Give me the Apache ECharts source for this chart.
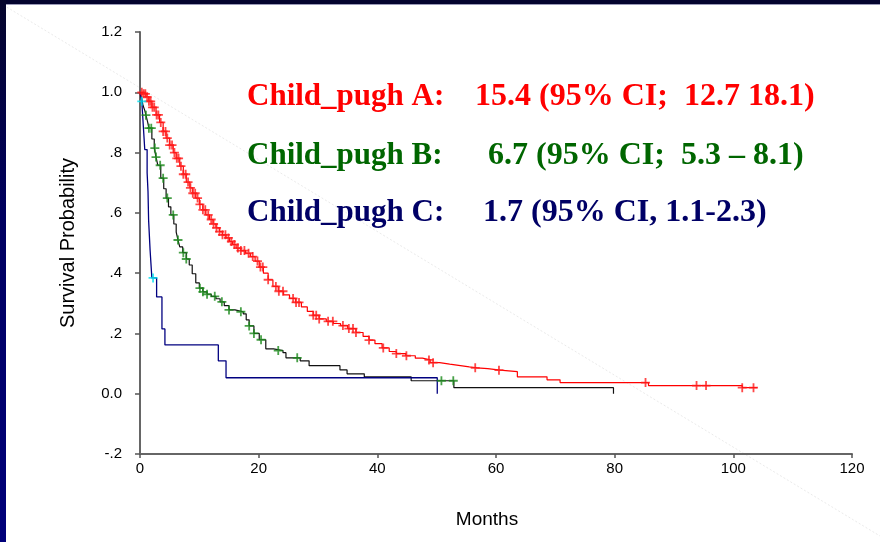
<!DOCTYPE html>
<html>
<head>
<meta charset="utf-8">
<script src="https://cdn.jsdelivr.net/npm/echarts/dist/echarts.min.js"></script>
<style>html,body{margin:0;padding:0;background:#fff;}#chart{width:880px;height:542px;}</style>
</head>
<body>
<div id="chart"></div>
<script>
// ---- Data ----
const xTicks = [0, 20, 40, 60, 80, 100, 120];
const yTickLabels = ['-.2', '0.0', '.2', '.4', '.6', '.8', '1.0', '1.2'];

// Child-Pugh A (red)
const aTime = [0, 0.5, 1.0, 1.5, 2.0, 2.7, 3.3, 3.9, 4.4, 5.0, 5.6, 6.1, 6.7, 7.3, 7.8, 8.4, 8.9, 9.4, 10.0, 10.6, 11.1, 11.7, 12.3, 12.8, 13.4, 13.9, 14.5, 15.1, 15.6, 16.2, 17.0, 17.8, 18.6, 19.4, 20.1, 20.8, 21.6, 22.4, 23.3, 24.2, 25.2, 26.2, 27.2, 28.2, 29.2, 30.2, 31.4, 32.6, 33.8, 35.0, 36.4, 37.6, 38.6, 39.6, 40.8, 42.0, 43.2, 44.8, 46.4, 47.6, 48.9, 50.5, 52.2, 54.0, 55.5, 56.8, 58.6, 60.7, 63.6, 68.6, 70.8, 85.7, 101.5, 104.0];
const aSurv = [1.0, 0.995, 0.985, 0.97, 0.95, 0.925, 0.90, 0.87, 0.848, 0.825, 0.80, 0.781, 0.755, 0.728, 0.702, 0.683, 0.665, 0.649, 0.628, 0.61, 0.593, 0.578, 0.563, 0.55, 0.538, 0.527, 0.517, 0.505, 0.495, 0.483, 0.475, 0.466, 0.455, 0.44, 0.42, 0.40, 0.378, 0.356, 0.34, 0.328, 0.316, 0.303, 0.288, 0.273, 0.26, 0.248, 0.24, 0.233, 0.226, 0.216, 0.203, 0.19, 0.178, 0.166, 0.152, 0.14, 0.133, 0.126, 0.118, 0.112, 0.103, 0.098, 0.093, 0.089, 0.086, 0.083, 0.078, 0.073, 0.056, 0.046, 0.037, 0.027, 0.020, 0.020];
const aCensor = [0.3, 0.6, 0.9, 1.2, 1.5, 1.8, 2.1, 2.4, 2.8, 3.1, 3.5, 3.9, 4.3, 4.6, 5.0, 5.4, 5.8, 6.2, 6.5, 6.9, 7.3, 7.7, 8.1, 8.5, 8.9, 9.3, 9.7, 10.1, 10.6, 11.0, 11.5, 12.0, 12.4, 12.9, 13.4, 13.9, 14.4, 14.9, 15.4, 15.9, 16.5, 17.0, 17.6, 18.3, 19.0, 19.8, 20.3, 20.7, 21.6, 22.9, 23.4, 24.1, 25.8, 26.3, 26.8, 29.2, 29.7, 30.2, 31.7, 32.5, 34.2, 35.2, 35.9, 36.4, 38.6, 41.0, 43.2, 44.9, 48.7, 49.4, 56.5, 60.5, 85.2, 93.8, 95.4, 101.5, 103.4];

// Child-Pugh B (black line, green censor marks)
const bTime = [0, 0.3, 0.5, 0.8, 1.0, 1.3, 1.5, 2.0, 2.4, 2.7, 3.0, 3.5, 4.0, 4.4, 4.8, 5.2, 5.7, 6.1, 6.4, 6.7, 7.2, 7.8, 8.3, 8.8, 9.4, 10.0, 10.6, 11.3, 12.0, 12.8, 13.5, 14.2, 15.0, 16.0, 17.4, 17.9, 18.4, 19.2, 20.1, 21.2, 22.5, 24.1, 24.6, 27.0, 28.5, 33.7, 34.9, 37.8, 45.7, 52.9, 79.8];
const bSurv = [1.0, 0.98, 0.957, 0.94, 0.924, 0.90, 0.881, 0.845, 0.815, 0.785, 0.758, 0.715, 0.68, 0.649, 0.62, 0.593, 0.563, 0.536, 0.51, 0.487, 0.468, 0.447, 0.427, 0.398, 0.368, 0.35, 0.338, 0.33, 0.323, 0.315, 0.305, 0.292, 0.278, 0.272, 0.265, 0.245, 0.225, 0.20, 0.179, 0.149, 0.143, 0.136, 0.119, 0.109, 0.093, 0.079, 0.066, 0.056, 0.043, 0.020, 0.0];
const bCensor = [1.0, 1.5, 1.9, 2.5, 2.7, 3.4, 3.9, 4.6, 5.6, 6.4, 7.3, 7.8, 10.1, 10.6, 11.3, 12.6, 13.8, 15.0, 17.0, 18.4, 19.2, 20.4, 23.3, 26.5, 50.8, 52.8];

// Child-Pugh C (navy line, cyan censor marks)
const cTime = [0, 0.3, 0.5, 0.8, 1.2, 1.35, 1.45, 1.7, 2.0, 2.8, 3.7, 4.2, 13.2, 14.5, 50.1];
const cSurv = [1.0, 0.97, 0.907, 0.81, 0.733, 0.67, 0.576, 0.477, 0.384, 0.321, 0.215, 0.162, 0.109, 0.053, 0.0];
const cCensor = [0.3, 2.2];

const legendLabels = ['Child_pugh A:', 'Child_pugh B:', 'Child_pugh C:'];
const legendValues = ['15.4 (95% CI;  12.7 18.1)', '6.7 (95% CI;  5.3 \u2013 8.1)', '1.7 (95% CI, 1.1-2.3)'];

// ---- Helpers ----
function pairs(t, s) { return t.map((v, i) => [v, s[i]]); }
function survAt(t, s, x) {
  let v = s[0];
  for (let i = 0; i < t.length; i++) { if (t[i] <= x) v = s[i]; else break; }
  return v;
}
function censorPts(c, t, s) { return c.map(x => [x, survAt(t, s, x)]); }

const plus = 'path://M4,0 H6 V4 H10 V6 H6 V10 H4 V6 H0 V4 H4 Z';
const serif = '"Liberation Serif", "Times New Roman", serif';
const sans = '"Liberation Sans", Arial, sans-serif';

const chart = echarts.init(document.getElementById('chart'), null, { renderer: 'canvas' });

const colors = ['#ff0000', '#006600', '#000066'];
const legendGraphics = [];
const rowY = [97, 156, 213];
const valX = [475, 488, 483];
for (let i = 0; i < 3; i++) {
  legendGraphics.push({
    type: 'text', left: 247, top: rowY[i] - 16, z: 10,
    style: { text: legendLabels[i], fill: colors[i], font: 'bold 31px ' + serif }
  });
  legendGraphics.push({
    type: 'text', left: valX[i], top: rowY[i] - 16, z: 10,
    style: { text: legendValues[i], fill: colors[i], font: 'bold 32px ' + serif }
  });
}

const option = {
  backgroundColor: '#ffffff',
  animation: false,
  grid: { left: 140, right: 28, top: 32, bottom: 88 },
  xAxis: {
    type: 'value', min: 0, max: 120, interval: 20,
    name: 'Months', nameLocation: 'middle', nameGap: 56,
    nameTextStyle: { fontFamily: sans, fontSize: 19, color: '#000', padding: [0, 18, 0, 0] },
    axisLine: { onZero: false, lineStyle: { color: '#666', width: 2 } },
    axisTick: { length: 4, lineStyle: { color: '#555', width: 1.5 } },
    axisLabel: { margin: 7, fontFamily: sans, fontSize: 15, color: '#000' },
    splitLine: { show: false }
  },
  yAxis: {
    type: 'value', min: -0.2, max: 1.2, interval: 0.2,
    name: 'Survival Probability', nameLocation: 'middle', nameGap: 62, nameRotate: 90,
    nameTextStyle: { fontFamily: sans, fontSize: 20, color: '#000' },
    axisLine: { show: true, onZero: false, lineStyle: { color: '#666', width: 2 } },
    axisTick: { show: true, length: 5, lineStyle: { color: '#555', width: 1.5 } },
    axisLabel: {
      margin: 18, fontFamily: sans, fontSize: 15, color: '#000',
      formatter: v => yTickLabels[Math.round((v + 0.2) / 0.2)]
    },
    splitLine: { show: false }
  },
  graphic: [
    { type: 'line', z: 0, shape: { x1: 0, y1: 3, x2: 880, y2: 536 }, style: { stroke: '#e4e4e4', lineWidth: 0.8, lineDash: [2, 2] } },
    { type: 'rect', z: 20, shape: { x: 0, y: 0, width: 880, height: 4 }, style: { fill: '#03032e' } },
    { type: 'rect', z: 20, shape: { x: 0, y: 4, width: 880, height: 1 }, style: { fill: '#9a9ab8' } },
    { type: 'rect', z: 20, shape: { x: 0, y: 0, width: 6, height: 542 },
      style: { fill: new echarts.graphic.LinearGradient(0, 0, 0, 1, [{ offset: 0, color: '#05052c' }, { offset: 0.4, color: '#000060' }, { offset: 1, color: '#00007a' }]) } }
  ].concat(legendGraphics),
  series: [
    { type: 'line', step: 'end', data: pairs(aTime, aSurv), showSymbol: false, lineStyle: { color: '#ff0000', width: 1.2 }, z: 3 },
    { type: 'line', step: 'end', data: pairs(bTime, bSurv), showSymbol: false, lineStyle: { color: '#111111', width: 1.2 }, z: 3 },
    { type: 'line', step: 'end', data: pairs(cTime, cSurv), showSymbol: false, lineStyle: { color: '#000080', width: 1.3 }, z: 3 },
    { type: 'scatter', data: censorPts(aCensor, aTime, aSurv), symbol: plus, symbolSize: 9, itemStyle: { color: '#ff1a1a' }, z: 4 },
    { type: 'scatter', data: censorPts(bCensor, bTime, bSurv), symbol: plus, symbolSize: 9, itemStyle: { color: '#1a8a1a' }, z: 4 },
    { type: 'scatter', data: censorPts(cCensor, cTime, cSurv), symbol: plus, symbolSize: 9, itemStyle: { color: '#00e0f0' }, z: 4 }
  ]
};
chart.setOption(option);
</script>
</body>
</html>
